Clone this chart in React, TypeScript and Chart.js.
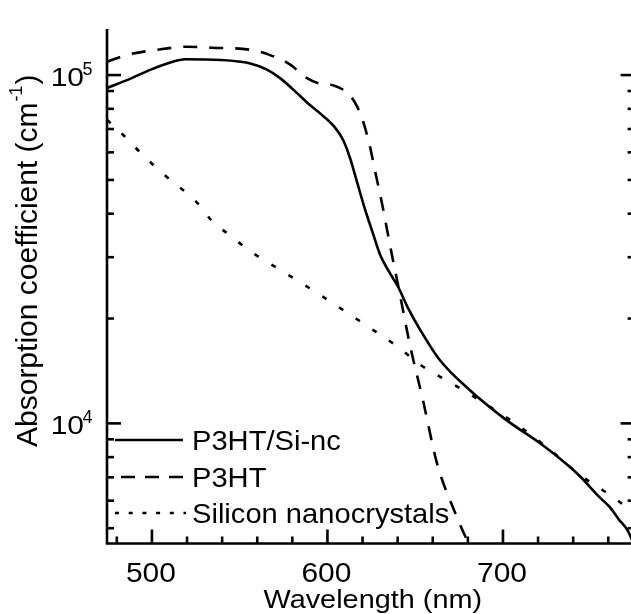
import React, { useEffect, useRef } from "react";
import { Chart, registerables } from "chart.js";

Chart.register(...registerables);

// ---------------- data ----------------
const compositeWavelengths = [
  474.4, 487.5, 499, 510, 519, 539, 556, 565, 573, 584, 590, 596, 604, 609,
  613, 617, 621.5, 626, 630, 635, 640, 646, 653, 664, 681, 702, 721, 736.5,
  744, 755, 761, 766, 771, 775,
];
const compositeAbsorption = [
  91800, 97500, 103500, 108500, 111000, 110500, 108000, 104000, 98000, 87500,
  82000, 77500, 71000, 65000, 57500, 49000, 41000, 35000, 30500, 27300, 24800,
  21400, 18500, 15200, 12470, 10220, 8780, 7620, 7040, 6140, 5740, 5300, 4930,
  4450,
];

const p3htWavelengths = [
  474.4, 486, 503, 520, 534, 556, 567, 579, 587, 596, 604, 613, 617, 620, 624,
  627, 631, 634, 637, 640, 647, 654.4, 662.4, 673.8, 680, 686,
];
const p3htAbsorption = [
  109200, 114300, 118200, 120600, 119800, 118200, 114300, 107000, 98900, 94400,
  93200, 87200, 81000, 74400, 63000, 53400, 43000, 35900, 30000, 25300, 16800,
  11670, 7690, 5380, 4560, 3900,
];

const siNcWavelengths = [
  474.4, 483.5, 493, 502, 512, 521, 528, 534, 545, 556, 570, 584, 598, 613, 627,
  641, 653, 671.5, 691, 710, 727, 745.5, 755, 765, 772.4, 775,
];
const siNcAbsorption = [
  74400, 67400, 60200, 54500, 49300, 45300, 41800, 38200, 34500, 31200, 28200,
  25500, 23000, 20500, 18400, 16460, 14720, 12970, 11290, 9760, 8380, 7010,
  6520, 6030, 5640, 5500,
];

const seriesLabels = ["P3HT/Si-nc", "P3HT", "Silicon nanocrystals"];

// axis ranges and ticks
const xMin = 474.4;
const xMax = 775;
const yMin = 4520;
const yMax = 135600;
const xMajorTicks = [500, 600, 700];
const xMinorTicks = [480, 520, 540, 560, 580, 620, 640, 660, 680, 720, 740, 760];
const yMajorTicks = [10000, 100000];
const yMajorExponents = ["4", "5"];
const yMinorTicks = [
  5000, 6000, 7000, 8000, 9000, 20000, 30000, 40000, 50000, 60000, 70000,
  80000, 90000,
];
const xTitle = "Wavelength (nm)";
const yTitleMain = "Absorption coefficient (cm";
const yTitleSup = "-1";
const yTitleEnd = ")";

// ---------------- styling ----------------
const FONT = '"Liberation Sans", Arial, Helvetica, sans-serif';
const LINE_W = 2.6;
const curveDashes: number[][] = [[], [14, 12], [5, 15]];
const legendDashes: number[][] = [[], [14, 10], [4, 9.7]];

function toPoints(xs: number[], ys: number[]) {
  return xs.map((x, i) => ({ x, y: ys[i] }));
}

function drawText(
  ctx: CanvasRenderingContext2D,
  s: string,
  x: number,
  y: number,
  size: number,
  align: CanvasTextAlign,
  sx = 1
) {
  ctx.save();
  ctx.font = `${size}px ${FONT}`;
  ctx.fillStyle = "#000";
  ctx.textAlign = align;
  ctx.textBaseline = "alphabetic";
  ctx.translate(x, y);
  ctx.scale(sx, 1);
  ctx.fillText(s, 0, 0);
  ctx.restore();
}

const framePlugin = {
  id: "frameAndLabels",
  afterDatasetsDraw(chart: any) {
    const ctx: CanvasRenderingContext2D = chart.ctx;
    const ca = chart.chartArea;
    const xs = chart.scales.x;
    const ys = chart.scales.y;
    ctx.save();
    ctx.strokeStyle = "#000";
    ctx.lineWidth = LINE_W;
    ctx.lineCap = "butt";
    ctx.setLineDash([]);

    // frame (left, bottom, right)
    ctx.beginPath();
    ctx.moveTo(ca.left, ca.top);
    ctx.lineTo(ca.left, ca.bottom);
    ctx.lineTo(ca.right, ca.bottom);
    ctx.lineTo(ca.right, ca.top);
    ctx.stroke();

    const seg = (x1: number, y1: number, x2: number, y2: number) => {
      ctx.beginPath();
      ctx.moveTo(x1, y1);
      ctx.lineTo(x2, y2);
      ctx.stroke();
    };

    // y ticks (inside, both sides)
    const yTick = (v: number, len: number) => {
      const y = ys.getPixelForValue(v);
      seg(ca.left, y, ca.left + len, y);
      seg(ca.right, y, ca.right - len, y);
    };
    yMajorTicks.forEach((v) => yTick(v, 14));
    yMinorTicks.forEach((v) => yTick(v, 7));

    // x ticks (inside, bottom)
    const xTick = (v: number, len: number) => {
      const x = xs.getPixelForValue(v);
      seg(x, ca.bottom, x, ca.bottom - len);
    };
    xMajorTicks.forEach((v) => xTick(v, 14));
    xMinorTicks.forEach((v) => xTick(v, 7));

    // x tick labels
    xMajorTicks.forEach((v) => {
      const x = xs.getPixelForValue(v);
      drawText(ctx, String(v), x - 1, ca.bottom + 38.5, 28, "center", 1.07);
    });
    // x title
    drawText(ctx, xTitle, (ca.left + ca.right) / 2 + 2, 608, 26, "center", 1.11);

    // y tick labels: 10 with superscript exponent
    yMajorTicks.forEach((v, i) => {
      const y = ys.getPixelForValue(v);
      drawText(ctx, "10", 84, y + 10.5, 25, "right", 1.2);
      drawText(ctx, yMajorExponents[i], 82.5, y, 18, "left", 1.0);
    });

    // y title, rotated, with superscript
    ctx.save();
    ctx.translate(37, 447);
    ctx.rotate(-Math.PI / 2);
    ctx.fillStyle = "#000";
    ctx.textBaseline = "alphabetic";
    ctx.textAlign = "left";
    ctx.font = `30px ${FONT}`;
    ctx.fillText(yTitleMain, 0, 0);
    const w1 = ctx.measureText(yTitleMain).width;
    ctx.font = `18px ${FONT}`;
    ctx.fillText(yTitleSup, w1 + 1, -15);
    const w2 = ctx.measureText(yTitleSup).width;
    ctx.font = `30px ${FONT}`;
    ctx.fillText(yTitleEnd, w1 + w2 + 2, 0);
    ctx.restore();

    // legend (inside lower-left)
    const rows = [440, 477, 513];
    chart.data.datasets.forEach((ds: any, i: number) => {
      const y = rows[i];
      ctx.save();
      ctx.lineWidth = LINE_W;
      ctx.setLineDash(legendDashes[i]);
      ctx.beginPath();
      if (i === 1) {
        ctx.moveTo(183, y);
        ctx.lineTo(115, y);
      } else if (i === 2) {
        ctx.moveTo(115, y);
        ctx.lineTo(186, y);
      } else {
        ctx.moveTo(115, y);
        ctx.lineTo(183, y);
      }
      ctx.stroke();
      ctx.restore();
      drawText(ctx, ds.label, 192, y + 10, 28, "left", 1.04);
    });

    ctx.restore();
  },
};

export default function App() {
  const ref = useRef<HTMLCanvasElement>(null);

  useEffect(() => {
    document.body.style.margin = "0";
    document.body.style.overflow = "hidden";
    document.body.style.background = "#fff";
    const canvas = ref.current;
    if (!canvas) return;

    const series = [
      toPoints(compositeWavelengths, compositeAbsorption),
      toPoints(p3htWavelengths, p3htAbsorption),
      toPoints(siNcWavelengths, siNcAbsorption),
    ];

    const chart = new Chart(canvas, {
      type: "line",
      data: {
        datasets: series.map((data, i) => ({
          label: seriesLabels[i],
          data,
          borderColor: "#000",
          backgroundColor: "#000",
          borderWidth: LINE_W,
          borderDash: curveDashes[i],
          pointRadius: 0,
          fill: false,
          cubicInterpolationMode: "monotone" as const,
        })),
      },
      options: {
        animation: false,
        responsive: false,
        devicePixelRatio: 1,
        events: [],
        layout: { padding: { left: 107, top: 29, right: 5.4, bottom: 70.5 } },
        scales: {
          x: { type: "linear", min: xMin, max: xMax, display: false },
          y: { type: "logarithmic", min: yMin, max: yMax, display: false },
        },
        plugins: {
          legend: { display: false },
          tooltip: { enabled: false },
          title: { display: false },
        },
      },
      plugins: [framePlugin],
    });

    return () => chart.destroy();
  }, []);

  return (
    <canvas
      ref={ref}
      width={640}
      height={614}
      style={{ display: "block", width: 640, height: 614 }}
    />
  );
}
